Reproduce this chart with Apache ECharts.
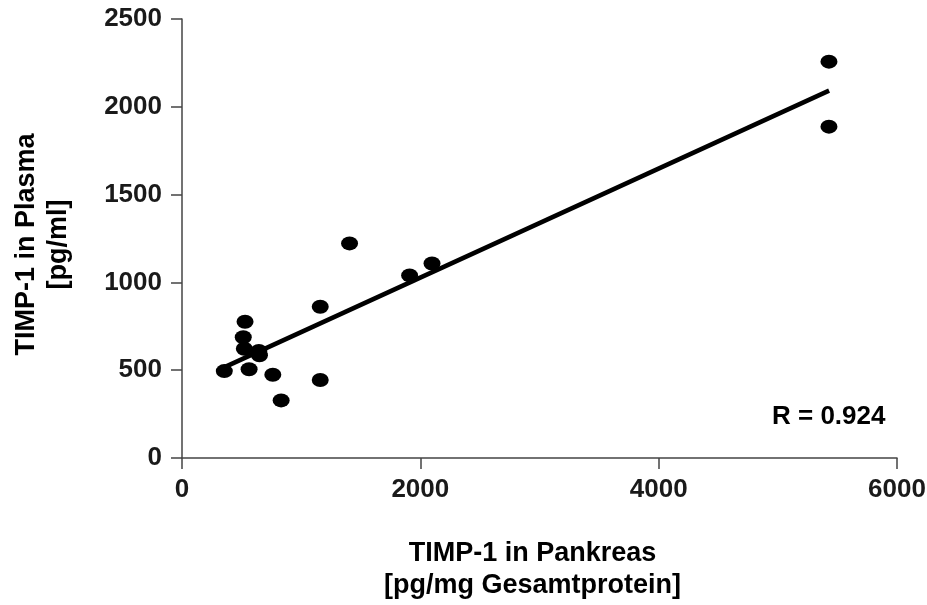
<!DOCTYPE html>
<html>
<head>
<meta charset="utf-8">
<script src="https://cdn.jsdelivr.net/npm/echarts@6/dist/echarts.min.js"></script>
<style>
html,body{margin:0;padding:0;background:#fff;}
#chart{width:927px;height:605px;}
</style>
</head>
<body>
<div id="chart"></div>
<script>
// Data
const pancreasX = [355, 529, 514, 523, 645, 650, 563, 762, 832, 1160, 1160, 1406, 1910, 2098, 5429, 5429];
const plasmaY   = [495, 776, 688, 622, 610, 585, 505, 474, 328, 444, 861, 1222, 1040, 1108, 2257, 1887];
const fitX = [353, 5430];
const fitY = [516, 2092];
const xTicks = {min: 0, max: 6000, interval: 2000};
const yTicks = {min: 0, max: 2500, interval: 500};
const xName = 'TIMP-1 in Pankreas\n[pg/mg Gesamtprotein]';
const yName = 'TIMP-1 in Plasma\n[pg/ml]';
const rLabel = 'R = 0.924';

const points = pancreasX.map((x, i) => [x, plasmaY[i]]);
const fitLine = fitX.map((x, i) => [x, fitY[i]]);

const FONT = '"Liberation Sans", Arial, sans-serif';
const axisColor = '#444';
const textColor = '#1a1a1a';

const chart = echarts.init(document.getElementById('chart'), null, {renderer: 'canvas'});
chart.setOption({
  backgroundColor: '#fff',
  animation: false,
  grid: {left: 182, right: 30, top: 19, bottom: 147, outerBoundsMode: 'none', containLabel: false},
  xAxis: {
    type: 'value',
    min: xTicks.min, max: xTicks.max, interval: xTicks.interval,
    name: xName,
    nameLocation: 'middle',
    nameGap: 80,
    nameTextStyle: {fontFamily: FONT, fontWeight: 'bold', fontSize: 27, color: '#000', lineHeight: 32,
                    padding: [0, 14, 0, 0]},
    axisLine: {show: true, lineStyle: {color: axisColor, width: 1.5}},
    axisTick: {show: true, length: 11, lineStyle: {color: axisColor, width: 1.5}},
    axisLabel: {margin: 19, fontFamily: FONT, fontWeight: 'bold', fontSize: 26, color: textColor,
                formatter: v => String(v)},
    splitLine: {show: false}
  },
  yAxis: {
    type: 'value',
    min: yTicks.min, max: yTicks.max, interval: yTicks.interval,
    name: yName,
    nameLocation: 'middle',
    nameRotate: 90,
    nameGap: 107,
    nameTextStyle: {fontFamily: FONT, fontWeight: 'bold', fontSize: 27, color: '#000', lineHeight: 32,
                    padding: [0, 12, 0, 0]},
    axisLine: {show: true, lineStyle: {color: axisColor, width: 1.5}},
    axisTick: {show: true, length: 11, lineStyle: {color: axisColor, width: 1.5}},
    axisLabel: {margin: 20, fontFamily: FONT, fontWeight: 'bold', fontSize: 26, color: textColor,
                formatter: v => String(v)},
    splitLine: {show: false}
  },
  series: [
    {
      type: 'line',
      data: fitLine,
      symbol: 'none',
      lineStyle: {color: '#000', width: 4.5},
      z: 2
    },
    {
      type: 'scatter',
      data: points,
      symbol: 'circle',
      symbolSize: [17, 14],
      itemStyle: {color: '#000', opacity: 1},
      z: 3
    }
  ],
  graphic: [{
    type: 'text',
    left: 772,
    top: 404,
    style: {text: rLabel, fontFamily: FONT, fontWeight: 'bold', fontSize: 26, fill: '#000'}
  }]
});
</script>
</body>
</html>
